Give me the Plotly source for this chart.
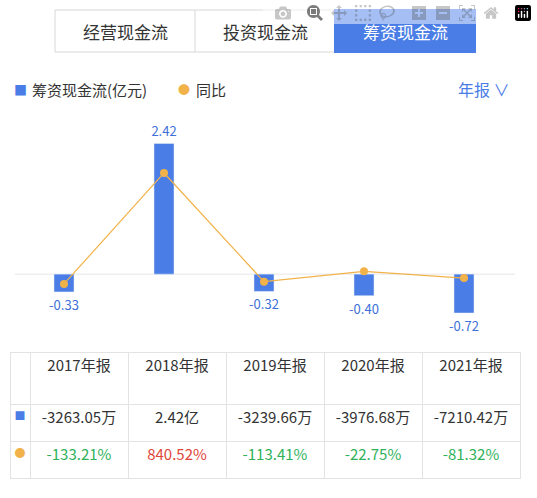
import plotly.graph_objects as go

years = ["2017", "2018", "2019", "2020", "2021"]
flow = [-0.33, 2.42, -0.32, -0.40, -0.72]
yoy = [-133.21, 840.52, -113.41, -22.75, -81.32]
col_heads = ["2017年报", "2018年报", "2019年报", "2020年报", "2021年报"]
flow_txt = ["-3263.05万", "2.42亿", "-3239.66万", "-3976.68万", "-7210.42万"]
yoy_txt = ["-133.21%", "840.52%", "-113.41%", "-22.75%", "-81.32%"]
tabs = ["经营现金流", "投资现金流", "筹资现金流"]

W, H = 537, 498
BLUE = "#4a7de6"
ORANGE = "#f2b24a"
FONT = "Noto Sans CJK SC"

def px(x):
    return x / W

def py(y):
    return 1 - y / H

def note(x, y, text, size, color, xanchor="center"):
    fig.add_annotation(x=px(x), y=py(y), xref="paper", yref="paper", text=text,
                       showarrow=False, xanchor=xanchor, yanchor="middle",
                       font=dict(size=size, color=color))

fig = go.Figure()
fig.add_trace(go.Bar(x=years, y=flow, marker_color=BLUE, width=0.2,
                     text=[f"{v:.2f}" for v in flow], textposition="outside",
                     constraintext="none",
                     textfont=dict(color="#3d6fd8", size=13), cliponaxis=False))
fig.add_trace(go.Scatter(x=years, y=yoy, yaxis="y2", mode="lines+markers",
                         line=dict(color=ORANGE, width=1.2),
                         marker=dict(color=ORANGE, size=8)))

top, bot = 110, 340
fig.update_layout(
    width=W, height=H, margin=dict(l=0, r=0, t=0, b=0),
    paper_bgcolor="white", plot_bgcolor="white", showlegend=False,
    font=dict(family=FONT, color="#333"),
    xaxis=dict(domain=[px(14), px(514)], visible=False, range=[-0.5, 4.5]),
    yaxis=dict(domain=[py(bot), py(top)], range=[-1.22, 3.04], visible=False),
    yaxis2=dict(overlaying="y", range=[-625, 1393], visible=False),
)
fig.add_shape(type="line", xref="paper", yref="y", x0=px(15), x1=px(515),
              y0=0, y1=0, line=dict(color="#e6e6e6", width=1), layer="below")

# tabs
fig.add_shape(type="rect", xref="paper", yref="paper", x0=px(55), x1=px(475),
              y0=py(52), y1=py(10), line=dict(color="#d8d8d8", width=1), layer="below")
for i, t in enumerate(tabs):
    x0 = 55 + i * 140
    if i == 2:
        fig.add_shape(type="rect", xref="paper", yref="paper", x0=px(x0), x1=px(x0 + 140),
                      y0=py(52), y1=py(10), fillcolor=BLUE, line=dict(color=BLUE),
                      layer="below")
    elif i == 1:
        fig.add_shape(type="line", xref="paper", yref="paper", x0=px(x0), x1=px(x0),
                      y0=py(52), y1=py(10), line=dict(color="#d8d8d8", width=1),
                      layer="below")
    note(x0 + 70, 31, t, 17, "white" if i == 2 else "#333")

# legend
note(12, 89, "■", 13, BLUE, "left")
note(30, 89, "筹资现金流(亿元)", 15, "#333", "left")
note(176, 89, "●", 12, ORANGE, "left")
note(194, 89, "同比", 15, "#333", "left")
note(512, 89, "年报 ∨", 16, BLUE, "right")

# table
red, green = "#e0453a", "#2fb15a"
yoy_colors = [red if v > 0 else green for v in yoy]
fig.add_trace(go.Table(
    domain=dict(x=[px(10), px(520)], y=[py(480), py(352)]),
    columnwidth=[20] + [98] * 5,
    header=dict(values=[""] + col_heads, height=52, fill_color="white",
                line_color="#e3e3e3", align="center",
                font=dict(family=FONT, size=15, color="#333")),
    cells=dict(values=[["■", "●"]] + [[flow_txt[i], yoy_txt[i]] for i in range(5)],
               height=37, fill_color="white", line_color="#e3e3e3", align="center",
               font=dict(family=FONT, size=[11] + [15] * 5,
                         color=[[BLUE, ORANGE]] + [["#333", c] for c in yoy_colors])),
))

fig.write_html("out.html", post_script="document.body.style.margin='0';")
